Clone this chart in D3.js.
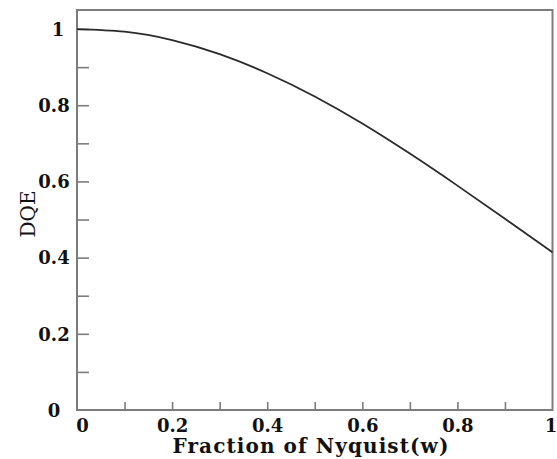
<!DOCTYPE html>
<html>
<head>
<meta charset="utf-8">
<script src="https://cdn.jsdelivr.net/npm/d3@7"></script>
<style>
  html, body { margin: 0; padding: 0; background: #fff; }
  svg { display: block; }
</style>
</head>
<body>
<svg id="chart" width="557" height="459"></svg>
<script>
// DQE versus spatial frequency (fraction of Nyquist)
const freq = [0, 0.1, 0.2, 0.3, 0.4, 0.5, 0.6, 0.7, 0.8, 0.9, 1.0];
const dqe  = [1.0, 0.993, 0.971, 0.934, 0.884, 0.823, 0.752, 0.673, 0.589, 0.502, 0.414];
const xTickLabels = [0, 0.2, 0.4, 0.6, 0.8, 1];
const yTickLabels = [0, 0.2, 0.4, 0.6, 0.8, 1];
const minorTicks  = [0.1, 0.2, 0.3, 0.4, 0.5, 0.6, 0.7, 0.8, 0.9, 1.0];

const svg = d3.select("#chart");
const plotLeft = 77, plotRight = 552.5, plotTop = 10, plotBottom = 410;

const x = d3.scaleLinear().domain([0, 1]).range([plotLeft, plotRight]);
const y = d3.scaleLinear().domain([0, 1.05]).range([plotBottom, plotTop]);

const frameColor = "#7c7c7c";
const font = "'DejaVu Serif', 'Liberation Serif', serif";

// inward ticks on the bottom axis
const xTicks = svg.append("g")
  .attr("transform", `translate(0,${plotBottom})`)
  .call(d3.axisBottom(x).tickValues(minorTicks.slice(0, 9)).tickSize(-8).tickFormat(""));
xTicks.select(".domain").remove();
xTicks.selectAll("line").attr("stroke", frameColor).attr("stroke-width", 1.6);

// inward ticks on the left axis
const yTicks = svg.append("g")
  .attr("transform", `translate(${plotLeft},0)`)
  .call(d3.axisLeft(y).tickValues(minorTicks).tickSize(-12).tickFormat(""));
yTicks.select(".domain").remove();
yTicks.selectAll("line").attr("stroke", frameColor).attr("stroke-width", 1.6);

// bottom tick labels
const xLab = svg.append("g")
  .attr("transform", `translate(0,${plotBottom})`)
  .call(d3.axisBottom(x).tickValues(xTickLabels).tickSize(0).tickPadding(9).tickFormat(d3.format("")));
xLab.select(".domain").remove();
xLab.selectAll("text")
  .attr("font-family", font).attr("font-weight", "bold")
  .attr("font-size", 18).attr("fill", "#111")
  .attr("dx", d => d === 0 ? 5 : (d === 1 ? -2 : 0));

// left tick labels
const yLab = svg.append("g")
  .attr("transform", `translate(${plotLeft},0)`)
  .call(d3.axisLeft(y).tickValues(yTickLabels).tickSize(0).tickFormat(d3.format("")));
yLab.select(".domain").remove();
yLab.selectAll("text")
  .attr("font-family", font).attr("font-weight", "bold")
  .attr("font-size", 18).attr("fill", "#111")
  .attr("text-anchor", "middle")
  .attr("x", d => d === 1 ? -19 : -23)
  .attr("dy", "0.35em");

// frame around the plot area
svg.append("rect")
  .attr("x", plotLeft).attr("y", plotTop)
  .attr("width", plotRight - plotLeft).attr("height", plotBottom - plotTop)
  .attr("fill", "none").attr("stroke", frameColor).attr("stroke-width", 2);

// DQE curve
const line = d3.line()
  .x((d, i) => x(freq[i]))
  .y(d => y(d))
  .curve(d3.curveNatural);

svg.append("path")
  .datum(dqe)
  .attr("d", line)
  .attr("fill", "none")
  .attr("stroke", "#2a2a2a")
  .attr("stroke-width", 1.8);

// axis titles
svg.append("text")
  .attr("x", 311).attr("y", 453)
  .attr("text-anchor", "middle")
  .attr("font-family", font).attr("font-weight", "bold")
  .attr("font-size", 20).attr("letter-spacing", 1.1).attr("fill", "#111")
  .text("Fraction of Nyquist(w)");

svg.append("text")
  .attr("transform", "translate(35,214) rotate(-90)")
  .attr("text-anchor", "middle")
  .attr("font-family", font)
  .attr("font-size", 20).attr("fill", "#111")
  .text("DQE");
</script>
</body>
</html>
